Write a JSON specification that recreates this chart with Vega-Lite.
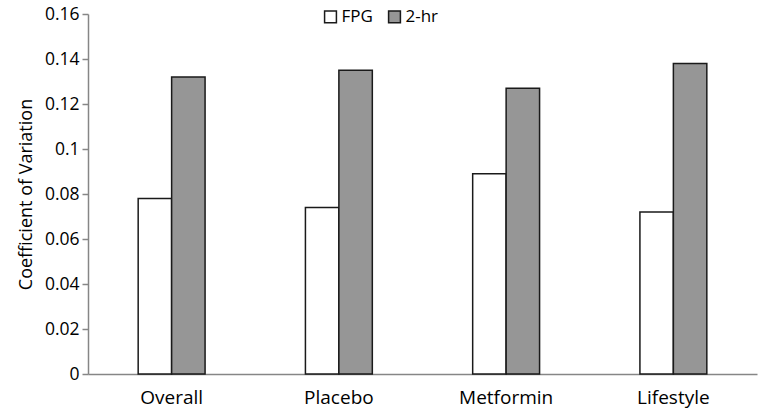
{
  "$schema": "https://vega.github.io/schema/vega-lite/v6.json",
  "width": 669,
  "height": 360,
  "autosize": {"type": "none"},
  "padding": {"left": 88, "top": 14, "right": 7, "bottom": 43},
  "background": "white",
  "config": {
    "view": {"stroke": null},
    "font": "Open Sans",
    "axis": {"labelFont": "Open Sans", "titleFont": "Open Sans", "labelColor": "#000", "titleColor": "#000"}
  },
  "data": {
    "values": [
      {"group": "Overall", "measure": "FPG", "cv": 0.078},
      {"group": "Overall", "measure": "2-hr", "cv": 0.132},
      {"group": "Placebo", "measure": "FPG", "cv": 0.074},
      {"group": "Placebo", "measure": "2-hr", "cv": 0.135},
      {"group": "Metformin", "measure": "FPG", "cv": 0.089},
      {"group": "Metformin", "measure": "2-hr", "cv": 0.127},
      {"group": "Lifestyle", "measure": "FPG", "cv": 0.072},
      {"group": "Lifestyle", "measure": "2-hr", "cv": 0.138}
    ]
  },
  "mark": {"type": "bar", "stroke": "#1a1a1a", "strokeWidth": 1.5},
  "encoding": {
    "x": {
      "field": "group", "type": "nominal",
      "sort": ["Overall", "Placebo", "Metformin", "Lifestyle"],
      "scale": {"paddingInner": 0.6, "paddingOuter": 0.3},
      "axis": {"title": null, "labelAngle": 0, "ticks": false, "labelPadding": 14, "labelFontSize": 19, "domainColor": "#868686", "domainWidth": 1.5}
    },
    "xOffset": {"field": "measure", "type": "nominal", "sort": ["FPG", "2-hr"], "scale": {"paddingInner": 0}},
    "y": {
      "field": "cv", "type": "quantitative",
      "scale": {"domain": [0, 0.16]},
      "axis": {
        "title": "Coefficient of Variation", "titleFontSize": 18, "titleFontWeight": "normal", "titlePadding": 9,
        "values": [0, 0.02, 0.04, 0.06, 0.08, 0.1, 0.12, 0.14, 0.16],
        "labelExpr": "datum.value == 0 ? '0' : format(datum.value, '.2~f')",
        "labelFontSize": 17.5, "labelPadding": 3, "grid": false,
        "domainColor": "#868686", "domainWidth": 1.5, "tickColor": "#868686", "tickSize": 6, "tickWidth": 1.5
      }
    },
    "fill": {
      "field": "measure", "type": "nominal",
      "sort": ["FPG", "2-hr"],
      "scale": {"domain": ["FPG", "2-hr"], "range": ["#ffffff", "#969696"]},
      "legend": {
        "title": null, "orient": "none", "direction": "horizontal",
        "legendX": 234, "legendY": -6,
        "symbolType": "square", "symbolSize": 140, "symbolStrokeColor": "#1a1a1a", "symbolStrokeWidth": 1.5,
        "labelFontSize": 17, "labelFont": "Open Sans", "labelColor": "#000", "columnPadding": 12, "labelOffset": 2.5
      }
    }
  }
}
